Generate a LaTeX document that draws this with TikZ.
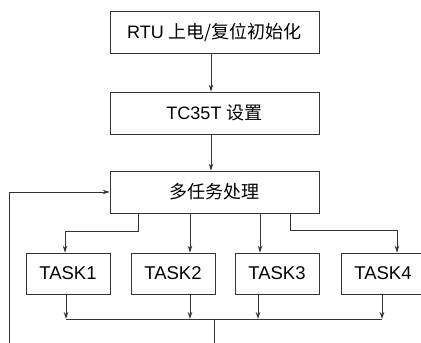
\documentclass[tikz,border=0pt]{standalone}
\usepackage{fontspec}
\setmainfont{Liberation Sans}
\newfontfamily\cjk{Noto Sans CJK SC}
\usetikzlibrary{arrows.meta}
\tikzset{
  stagebox/.style={draw=black!80, line width=0.8pt, minimum width=209pt, minimum height=42pt,
    inner sep=0pt, font=\fontsize{18}{20}\selectfont},
  taskbox/.style={draw=black!80, line width=0.8pt, minimum width=84pt, minimum height=41pt,
    inner sep=0pt, font=\fontsize{18.5}{20}\selectfont},
  arr/.style={draw=black!80, line width=0.8pt, -{Stealth[length=7pt,width=4.5pt]}},
  wire/.style={draw=black!80, line width=0.8pt}
}
\begin{document}
\begin{tikzpicture}[x=1pt,y=-1pt]
  \useasboundingbox (0,0) rectangle (421,343);
  % main chain
  \node [stagebox] (rtu) at (214.5,32) {RTU {\cjk 上电/复位初始化}};
  \node [stagebox] (tc) at (214.5,113) {TC35T {\cjk 设置}};
  \node [stagebox] (multi) at (214.5,192) {\cjk 多任务处理};
  \draw [arr] ([xshift=-3.5pt]rtu.south) -- ([xshift=-3.5pt]tc.north);
  \draw [arr] ([xshift=-3.5pt]tc.south) -- ([xshift=-3.5pt]multi.north);
  % tasks
  \node [taskbox] (task1) at (68,273.5) {TASK1};
  \node [taskbox] (task2) at (173,273.5) {TASK2};
  \node [taskbox] (task3) at (277,273.5) {TASK3};
  \node [taskbox] (task4) at (383,273.5) {TASK4};
  \draw [arr] ([xshift=-76.5pt]multi.south) -- ++(0,18) -| ([xshift=-3pt]task1.north);
  \draw [arr] ([xshift=-24.5pt]multi.south) -- ([xshift=17pt]task2.north);
  \draw [arr] ([xshift=45.5pt]multi.south) -- ([xshift=-17pt]task3.north);
  \draw [arr] ([xshift=75.5pt]multi.south) -- ++(0,17) -| ([xshift=14pt]task4.north);
  % join and loop back
  \coordinate (busL) at (66,319);
  \coordinate (busR) at (382,319);
  \coordinate (bus) at (214,319);
  \coordinate (busend) at (214,343);
  \coordinate (back) at (9,343);
  \draw [arr] ([xshift=-2pt]task1.south) -- ([xshift=-2pt]task1.south |- busL);
  \draw [arr] ([xshift=17pt]task2.south) -- ([xshift=17pt]task2.south |- busL);
  \draw [arr] ([xshift=-19pt]task3.south) -- ([xshift=-19pt]task3.south |- busL);
  \draw [arr] ([xshift=-1pt]task4.south) -- ([xshift=-1pt]task4.south |- busR);
  \draw [wire] (busL) -- (busR);
  \draw [wire] (bus) -- (busend);
  \draw [arr] (back) |- (multi.west);
\end{tikzpicture}
\end{document}
